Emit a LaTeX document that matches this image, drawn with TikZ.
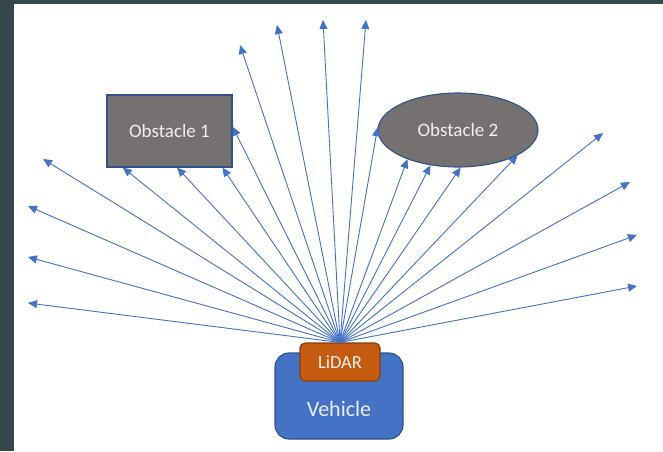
\documentclass[tikz,border=0pt]{standalone}
\usepackage{fontspec}
\setmainfont{Carlito}
\usetikzlibrary{arrows.meta,shapes.geometric,calc}

\definecolor{frame}{RGB}{52,71,79}
\definecolor{ray}{RGB}{68,114,196}
\definecolor{obsfill}{RGB}{118,113,113}
\definecolor{obsline}{RGB}{47,82,143}
\definecolor{carfill}{RGB}{68,114,196}
\definecolor{carline}{RGB}{47,82,143}
\definecolor{lidarfill}{RGB}{197,90,17}
\definecolor{lidarline}{RGB}{132,60,12}

\tikzset{
  beam/.style={draw=ray, line width=0.9pt, -{Triangle[length=9pt,width=8pt]}},
  obstacle/.style={fill=obsfill, draw=obsline, line width=1.1pt, text=white!94!black, font=\fontsize{19}{21}\selectfont, inner sep=0pt},
}

\begin{document}
\begin{tikzpicture}[x=1pt,y=-1pt]
  % canvas with dark frame on the left and top
  \useasboundingbox (0,0) rectangle (663,451);
  \fill[frame] (0,0) rectangle (663,451);
  \fill[white] (14,4) rectangle (663,451);

  % obstacles
  \node[obstacle, rectangle, minimum width=125pt, minimum height=72pt] (ob1) at (169.5,131) {Obstacle 1};
  \node[obstacle, ellipse, minimum width=160pt, minimum height=74pt] (ob2) at (458,130) {Obstacle 2};

  % vehicle with the sensor on its roof
  \node[fill=carfill, draw=carline, line width=1.1pt, rounded corners=14pt,
        minimum width=128pt, minimum height=86pt, inner sep=0pt] (car) at (339,396) {};
  \node[text=white!92!blue, font=\fontsize{22}{24}\selectfont] (cartext) at (339,409) {Vehicle};
  \node[fill=lidarfill, draw=lidarline, line width=1.1pt, rounded corners=5pt,
        minimum width=80pt, minimum height=38pt, inner sep=0pt, text=white!94!black,
        font=\fontsize{18.5}{20}\selectfont] (lidar) at (340,362) {LiDAR};

  % free ends of the beams
  \coordinate (l1) at (28,303);
  \coordinate (l2) at (28,257);
  \coordinate (l3) at (28,206);
  \coordinate (l4) at (43,159);
  \coordinate (t1) at (240,45);
  \coordinate (t2) at (277,25);
  \coordinate (t3) at (323,20);
  \coordinate (t4) at (366,20);
  \coordinate (r1) at (603,133);
  \coordinate (r2) at (630,182);
  \coordinate (r3) at (637,235);
  \coordinate (r4) at (637,286);

  % beams into open space
  \foreach \p in {l1,l2,l3,l4,t1,t2,t3,t4,r1,r2,r3,r4}
    \draw[beam] (lidar.north) -- (\p);

  % beams hitting obstacle 1
  \draw[beam] (lidar.north) -- ($(ob1.south west)!0.13!(ob1.south east)$);
  \draw[beam] (lidar.north) -- ($(ob1.south west)!0.56!(ob1.south east)$);
  \draw[beam] (lidar.north) -- ($(ob1.south west)!0.92!(ob1.south east)$);
  \draw[beam] (lidar.north) -- ($(ob1.north east)!0.44!(ob1.south east)$);

  % beams hitting obstacle 2
  \foreach \a in {178,210,232,274,337}
    \draw[beam] (lidar.north) -- (ob2.\a);
\end{tikzpicture}
\end{document}
